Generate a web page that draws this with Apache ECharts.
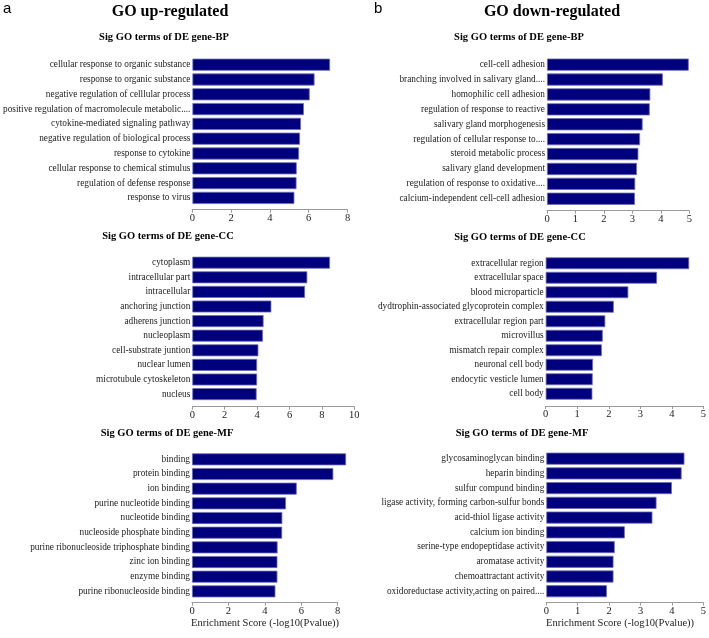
<!DOCTYPE html>
<html>
<head>
<meta charset="utf-8">
<script src="https://cdn.jsdelivr.net/npm/echarts@6/dist/echarts.min.js"></script>
<style>
html,body{margin:0;padding:0;background:#fff;}
#c{width:709px;height:638px;}
</style>
</head>
<body>
<div id="c"></div>
<script>
// ---- Data ----
const upBPCategories = ["cellular response to organic substance","response to organic substance","negative regulation of celllular process","positive regulation of macromolecule metabolic....","cytokine-mediated signaling pathway","negative regulation of biological process","response to cytokine","cellular response to chemical stimulus","regulation of defense response","response to virus"];
const upBPValues = [7.1, 6.3, 6.05, 5.75, 5.6, 5.55, 5.5, 5.38, 5.37, 5.26];

const upCCCategories = ["cytoplasm","intracellular part","intracellular","anchoring junction","adherens junction","nucleoplasm","cell-substrate juntion","nuclear lumen","microtubule cytoskeleton","nucleus"];
const upCCValues = [8.5, 7.1, 6.96, 4.88, 4.4, 4.36, 4.08, 4.0, 4.0, 3.97];

const upMFCategories = ["binding","protein binding","ion binding","purine nucleotide binding","nucleotide binding","nucleoside phosphate binding","purine ribonucleoside triphosphate binding","zinc ion binding","enzyme binding","purine ribonucleoside binding"];
const upMFValues = [8.46, 7.76, 5.75, 5.16, 4.96, 4.95, 4.7, 4.69, 4.69, 4.58];

const downBPCategories = ["cell-cell adhesion","branching involved in salivary gland....","homophilic cell adhesion","regulation of response to reactive","salivary gland morphogenesis","regulation of cellular response to....","steroid metabolic process","salivary gland development","regulation of response to oxidative....","calcium-independent cell-cell adhesion"];
const downBPValues = [4.98, 4.07, 3.63, 3.61, 3.36, 3.27, 3.21, 3.16, 3.1, 3.09];

const downCCCategories = ["extracellular region","extracellular space","blood microparticle","dydtrophin-associated glycoprotein complex","extracellular region part","microvillus","mismatch repair complex","neuronal cell body","endocytic vesticle lumen","cell body"];
const downCCValues = [4.55, 3.53, 2.62, 2.16, 1.89, 1.81, 1.78, 1.5, 1.49, 1.48];

const downMFCategories = ["glycosaminoglycan binding","heparin binding","sulfur compund binding","ligase activity, forming carbon-sulfur bonds","acid-thiol ligase activity","calcium ion binding","serine-type endopeptidase activity","aromatase activity","chemoattractant activity","oxidoreductase activity,acting on paired...."];
const downMFValues = [4.4, 4.31, 4.0, 3.51, 3.38, 2.5, 2.18, 2.14, 2.14, 1.93];

const axisMaxes = [8, 10, 8, 5, 5, 5];
const axisIntervals = [2, 2, 2, 1, 1, 1];
const panelTitles = ["Sig GO terms of DE gene-BP","Sig GO terms of DE gene-CC","Sig GO terms of DE gene-MF","Sig GO terms of DE gene-BP","Sig GO terms of DE gene-CC","Sig GO terms of DE gene-MF"];
const mainTitles = ["GO up-regulated","GO down-regulated"];
const panelLetters = ["a","b"];
const xAxisName = "Enrichment Score (-log10(Pvalue))";

// ---- Layout ----
const cats = [upBPCategories, upCCCategories, upMFCategories, downBPCategories, downCCCategories, downMFCategories];
const vals = [upBPValues, upCCValues, upMFValues, downBPValues, downCCValues, downMFValues];
const grids = [
  {left:192, width:155.5, top:57.3, height:148, off:4.4},
  {left:192.3, width:162, top:255.4, height:146, off:5.3},
  {left:192, width:145.7, top:452, height:146.7, off:4},
  {left:547, width:142.3, top:57.2, height:149, off:4.5},
  {left:545.7, width:161, top:256, height:145, off:5},
  {left:546.3, width:157, top:451.3, height:147.3, off:4}
];
const titlePos = [[164,37],[168,236],[167,433],[519,37],[520,237],[522,433]];

const serif = '"Liberation Serif","Times New Roman",serif';
const chart = echarts.init(document.getElementById('c'), null, {renderer:'canvas'});

const option = {
  backgroundColor:'#fff',
  animation:false,
  grid: grids.map(g => ({left:g.left, width:g.width, top:g.top, height:g.height, containLabel:false})),
  xAxis: grids.map((g,i) => ({
    gridIndex:i, type:'value', min:0, max:axisMaxes[i], interval:axisIntervals[i],
    offset:g.off,
    axisLine:{show:true, lineStyle:{color:'#9a9a9a', width:1}},
    axisTick:{show:true, length:3, lineStyle:{color:'#9a9a9a'}},
    splitLine:{show:false},
    axisLabel:{fontFamily:serif, fontSize:10.5, color:'#222', margin:3}
  })),
  yAxis: grids.map((g,i) => ({
    gridIndex:i, type:'category', data:cats[i], inverse:true,
    axisLine:{show:false}, axisTick:{show:false}, splitLine:{show:false},
    axisLabel:{fontFamily:serif, fontSize:9.3, color:'#222', margin:2, interval:0}
  })),
  series: grids.map((g,i) => ({
    type:'bar', xAxisIndex:i, yAxisIndex:i, data:vals[i],
    barCategoryGap:'18%', clip:false,
    itemStyle:{color:'#00007f', borderColor:'#6f6fb5', borderWidth:0.8}
  })),
  graphic: [
    ...titlePos.map((p,i) => ({type:'text', x:p[0], y:p[1], style:{text:panelTitles[i], font:'bold 10.5px '+serif, fill:'#000', textAlign:'center', textVerticalAlign:'middle'}})),
    {type:'text', x:170, y:12, style:{text:mainTitles[0], font:'bold 16px '+serif, fill:'#000', textAlign:'center', textVerticalAlign:'middle'}},
    {type:'text', x:552, y:12, style:{text:mainTitles[1], font:'bold 16px '+serif, fill:'#000', textAlign:'center', textVerticalAlign:'middle'}},
    {type:'text', x:3, y:9, style:{text:panelLetters[0], font:'15px "Liberation Sans",Arial,sans-serif', fill:'#000', textVerticalAlign:'middle'}},
    {type:'text', x:374, y:9, style:{text:panelLetters[1], font:'15px "Liberation Sans",Arial,sans-serif', fill:'#000', textVerticalAlign:'middle'}},
    {type:'text', x:191, y:623, style:{text:xAxisName, font:'10.5px '+serif, fill:'#222', textVerticalAlign:'middle'}},
    {type:'text', x:546, y:623, style:{text:xAxisName, font:'10.5px '+serif, fill:'#222', textVerticalAlign:'middle'}}
  ]
};
chart.setOption(option);
</script>
</body>
</html>
